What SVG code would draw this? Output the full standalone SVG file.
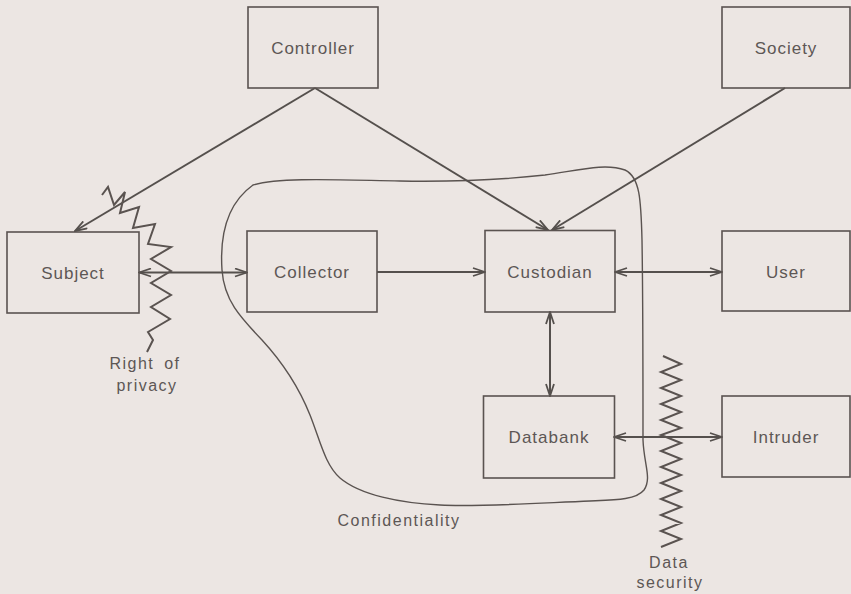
<svg xmlns="http://www.w3.org/2000/svg" width="851" height="594" viewBox="0 0 851 594">
  <style>
    .box { fill: none; stroke: #5a5350; stroke-width: 1.6; }
    .lbl { font-family: "Liberation Sans", Arial, sans-serif; font-size: 17px; letter-spacing: 1px; fill: #5d5755; text-anchor: middle; }
    .note { font-family: "Liberation Sans", Arial, sans-serif; font-size: 16px; letter-spacing: 1.5px; fill: #5d5755; text-anchor: middle; }
    .edge { fill: none; stroke: #55504d; stroke-width: 2; }
    .zig { fill: none; stroke: #5a5350; stroke-width: 2; stroke-linejoin: miter; }
    .blob { fill: none; stroke: #5a5350; stroke-width: 1.4; }
  </style>
  <defs>
    <marker id="head" viewBox="0 0 14 10" refX="13" refY="5" markerWidth="14" markerHeight="10" markerUnits="userSpaceOnUse" orient="auto-start-reverse">
      <path d="M1,1 L13,5 L1,9" fill="none" stroke="#55504d" stroke-width="1.8"/>
    </marker>
  </defs>

  <rect width="851" height="594" fill="#ece6e3"/>

  <!-- confidentiality boundary -->
  <path class="blob" d="M253,185 C280,177 340,180 400,181 C460,182 500,180 545,175 C580,170 605,163 625,170 C640,177 641,200 642,240 C643,300 643,380 643,440 C644,465 652,478 644,490 C636,500 615,500 590,501 C540,503 480,507 440,505 C400,503 360,495 340,478 C325,465 320,440 310,415 C300,390 285,365 262,340 C240,317 224,300 222,270 C220,240 225,205 253,185 Z"/>

  <g id="connectors">
    <line class="edge" x1="315" y1="88" x2="75" y2="231" marker-end="url(#head)"/>
    <line class="edge" x1="315" y1="88" x2="548" y2="230" marker-end="url(#head)"/>
    <line class="edge" x1="785" y1="88" x2="552" y2="230" marker-end="url(#head)"/>
    <line class="edge" x1="139" y1="272.5" x2="247" y2="272.5" marker-start="url(#head)" marker-end="url(#head)"/>
    <line class="edge" x1="377" y1="272" x2="485" y2="272" marker-end="url(#head)"/>
    <line class="edge" x1="615" y1="272" x2="722" y2="272" marker-start="url(#head)" marker-end="url(#head)"/>
    <line class="edge" x1="550" y1="312" x2="550" y2="396" marker-start="url(#head)" marker-end="url(#head)"/>
    <line class="edge" x1="614" y1="437" x2="722" y2="437" marker-start="url(#head)" marker-end="url(#head)"/>
  </g>

  <g id="controller">
    <rect class="box" x="248" y="7" width="130" height="81"/>
    <text class="lbl" x="313" y="53.5">Controller</text>
  </g>
  <g id="society">
    <rect class="box" x="722" y="7" width="128" height="81"/>
    <text class="lbl" x="786" y="53.5">Society</text>
  </g>
  <g id="subject">
    <rect class="box" x="7" y="232" width="132" height="81"/>
    <text class="lbl" x="73" y="278.5">Subject</text>
  </g>
  <g id="collector">
    <rect class="box" x="247" y="231" width="130" height="81"/>
    <text class="lbl" x="312" y="277.5">Collector</text>
  </g>
  <g id="custodian">
    <rect class="box" x="485" y="230.5" width="130" height="81.5"/>
    <text class="lbl" x="550" y="277.5">Custodian</text>
  </g>
  <g id="user">
    <rect class="box" x="722" y="231" width="128" height="80"/>
    <text class="lbl" x="786" y="277.5">User</text>
  </g>
  <g id="databank">
    <rect class="box" x="483.5" y="396" width="131" height="82"/>
    <text class="lbl" x="549" y="443">Databank</text>
  </g>
  <g id="intruder">
    <rect class="box" x="722" y="396" width="128" height="81"/>
    <text class="lbl" x="786" y="443">Intruder</text>
  </g>

  <!-- right of privacy barrier -->
  <g id="privacy-barrier">
    <path class="zig" d="M102,195 L108,187 L114,205 L125,192 L120,213 L139,207 L133,228 L155,224 L148,244 L171,247 L151,259 L171,271 L151,283 L171,295 L151,307 L170,319 L148,332 L153,340 L147,352"/>
    <text class="note" x="145" y="369" word-spacing="4">Right of</text>
    <text class="note" x="147" y="391">privacy</text>
  </g>

  <!-- data security barrier -->
  <g id="security-barrier">
    <path class="zig" d="M663,356 L681,364 L661,372 L681,380 L661,388 L681,396 L661,404 L681,412 L661,420 L681,428 L661,435 L681,443 L661,451 L681,459 L661,467 L681,475 L661,483 L681,491 L661,499 L681,507 L661,515 L681,523 L661,531 L681,539 L661,547"/>
    <text class="note" x="669" y="568">Data</text>
    <text class="note" x="670" y="588">security</text>
  </g>

  <text class="note" x="399" y="526">Confidentiality</text>
</svg>
